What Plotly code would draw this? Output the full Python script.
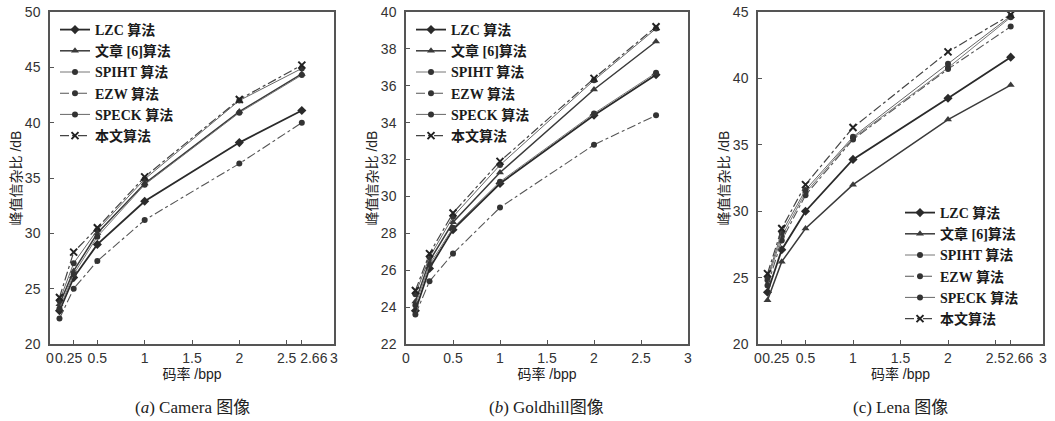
import plotly.graph_objects as go

# ---------------- data ----------------
bpp = [0.1, 0.25, 0.5, 1, 2, 2.66]
series_names = ["LZC 算法", "文章 [6]算法", "SPIHT 算法", "EZW 算法", "SPECK 算法", "本文算法"]

# (a) Camera
cam_lzc    = [23.0, 26.0, 29.0, 32.9, 38.2, 41.1]
cam_art6   = [23.6, 26.6, 30.0, 34.5, 41.0, 44.4]
cam_spiht  = [23.2, 26.3, 29.7, 34.4, 40.9, 44.3]
cam_ezw    = [22.3, 25.0, 27.5, 31.2, 36.3, 40.0]
cam_speck  = [23.9, 27.3, 30.3, 34.9, 42.0, 44.9]
cam_ours   = [24.2, 28.3, 30.5, 35.1, 42.1, 45.2]

# (b) Goldhill
gold_lzc   = [23.8, 26.1, 28.2, 30.7, 34.4, 36.6]
gold_art6  = [24.3, 26.5, 28.6, 31.3, 35.8, 38.4]
gold_spiht = [24.1, 26.3, 28.3, 30.8, 34.5, 36.7]
gold_ezw   = [23.6, 25.4, 26.9, 29.4, 32.8, 34.4]
gold_speck = [24.7, 26.7, 28.9, 31.7, 36.3, 39.1]
gold_ours  = [24.9, 26.9, 29.1, 31.9, 36.4, 39.2]

# (c) Lena
lena_lzc   = [23.9, 27.1, 30.0, 33.9, 38.5, 41.6]
lena_art6  = [23.3, 26.2, 28.7, 32.0, 36.9, 39.5]
lena_spiht = [24.8, 28.1, 31.4, 35.5, 40.8, 44.6]
lena_ezw   = [24.4, 27.8, 31.2, 35.4, 40.7, 43.9]
lena_speck = [25.0, 28.4, 31.6, 35.6, 41.1, 44.7]
lena_ours  = [25.3, 28.7, 32.0, 36.3, 42.0, 44.8]

# x ticks: main set plus the two crowded extra ticks (0.25 and 2.66)
xticks_main = [0, 0.5, 1, 1.5, 2, 2.5, 3]
xticklabels_main = ["0", "0.5", "1", "1.5", "2", "2.5", "3"]
xtick_low = [0.25]
xticklabel_low = ["0.25"]
xtick_high = [2.66]
xticklabel_high = ["2.66"]

yticks_a = [20, 25, 30, 35, 40, 45, 50]
yticks_b = [22, 24, 26, 28, 30, 32, 34, 36, 38, 40]
yticks_c = [20, 25, 30, 35, 40, 45]

captions = ["(<i>a</i>) Camera 图像", "(<i>b</i>) Goldhill图像", "(c) Lena 图像"]
ytitle = "峰值信杂比 /dB"
xtitle = "码率 /bpp"

# ---------------- styles ----------------
styles = [
    dict(line=dict(color="#2a2a2a", width=1.8, dash="solid"), marker=dict(symbol="diamond", size=7, color="#2a2a2a")),
    dict(line=dict(color="#3a3a3a", width=1.5, dash="solid"), marker=dict(symbol="triangle-up", size=7, color="#3a3a3a")),
    dict(line=dict(color="#777777", width=1.0, dash="solid"), marker=dict(symbol="circle", size=6, color="#333333")),
    dict(line=dict(color="#555555", width=1.1, dash="dashdot"), marker=dict(symbol="circle", size=6, color="#333333")),
    dict(line=dict(color="#666666", width=1.0, dash="solid"), marker=dict(symbol="circle", size=6, color="#333333")),
    dict(line=dict(color="#444444", width=1.2, dash="dashdot"), marker=dict(symbol="x-thin", size=7, color="#222222", line=dict(width=2, color="#222222"))),
]

data_sets = [
    [cam_lzc, cam_art6, cam_spiht, cam_ezw, cam_speck, cam_ours],
    [gold_lzc, gold_art6, gold_spiht, gold_ezw, gold_speck, gold_ours],
    [lena_lzc, lena_art6, lena_spiht, lena_ezw, lena_speck, lena_ours],
]

W, H = 1055, 421
xdomains = [(50 / W, 334 / W), (406 / W, 688 / W), (758 / W, 1043 / W)]
ydomain = (1 - 344 / H, 1 - 12 / H)
yranges = [(20, 50), (22, 40), (20, 45)]
ytick_sets = [yticks_a, yticks_b, yticks_c]
legend_keys = ["legend", "legend2", "legend3"]
# extra overlay axes for panels a and c: (panel, axis number, ticks, labels, label shift px)
extra_axes = [
    (0, 4, xtick_low, xticklabel_low, -5),
    (0, 5, xtick_high, xticklabel_high, 12),
    (2, 6, xtick_low, xticklabel_low, -6),
    (2, 7, xtick_high, xticklabel_high, 9),
]

fig = go.Figure()
for p in range(3):
    xa = "x" if p == 0 else f"x{p+1}"
    ya = "y" if p == 0 else f"y{p+1}"
    for s in range(6):
        fig.add_trace(go.Scatter(
            x=bpp, y=data_sets[p][s], name=series_names[s],
            mode="lines+markers", xaxis=xa, yaxis=ya,
            legend=legend_keys[p], **styles[s]))

for (p, n, tv, tt, sh) in extra_axes:
    ya = "y" if p == 0 else f"y{p+1}"
    fig.add_trace(go.Scatter(x=[], y=[], xaxis=f"x{n}", yaxis=ya, showlegend=False,
                             hoverinfo="skip"))

axis_common = dict(showline=True, mirror=True, linecolor="#555555", linewidth=1.5,
                   ticks="inside", ticklen=4, tickcolor="#555555", showgrid=False, zeroline=False,
                   automargin=False)
xtick_font = dict(family="Liberation Sans Narrow, Liberation Sans", size=14, color="#333333")
title_font = dict(family="Liberation Sans, Noto Sans CJK SC", size=14, color="#222222")
layout = dict(width=W, height=H, margin=dict(l=0, r=0, t=0, b=0, pad=0, autoexpand=False),
              paper_bgcolor="white", plot_bgcolor="white", showlegend=True)

for p in range(3):
    xk = "xaxis" if p == 0 else f"xaxis{p+1}"
    yk = "yaxis" if p == 0 else f"yaxis{p+1}"
    ya = "y" if p == 0 else f"y{p+1}"
    xa = "x" if p == 0 else f"x{p+1}"
    layout[xk] = dict(domain=list(xdomains[p]), range=[0, 3], anchor=ya,
                      tickmode="array", tickvals=xticks_main, ticktext=xticklabels_main,
                      tickangle=0, tickfont=xtick_font,
                      title=dict(text=xtitle, font=title_font, standoff=3), **axis_common)
    layout[yk] = dict(domain=list(ydomain), range=list(yranges[p]), anchor=xa,
                      tickmode="array", tickvals=ytick_sets[p], ticklabelstandoff=5,
                      tickfont=dict(family="Liberation Sans", size=14, color="#333333"),
                      title=dict(text=ytitle, font=title_font, standoff=0), **axis_common)

for (p, n, tv, tt, sh) in extra_axes:
    xa = "x" if p == 0 else f"x{p+1}"
    ya = "y" if p == 0 else f"y{p+1}"
    layout[f"xaxis{n}"] = dict(overlaying=xa, anchor=ya, side="bottom", range=[0, 3],
                               tickmode="array", tickvals=tv, ticktext=tt, tickangle=0,
                               ticklabelshift=sh, tickfont=xtick_font, automargin=False,
                               showline=True, linecolor="rgba(0,0,0,0)", linewidth=1.5,
                               ticks="inside", ticklen=4, tickcolor="#555555",
                               showgrid=False, zeroline=False)

legend_font = dict(family="Liberation Serif, Noto Sans CJK SC", size=14, color="#1a1a1a", weight="bold")
leg_common = dict(xanchor="left", yanchor="top", font=legend_font,
                  bgcolor="rgba(0,0,0,0)", tracegroupgap=0, itemwidth=30)
layout["legend"] = dict(x=55 / W, y=1 - 14 / H, **leg_common)
layout["legend2"] = dict(x=411 / W, y=1 - 14 / H, **leg_common)
layout["legend3"] = dict(x=900 / W, y=1 - 197 / H, **leg_common)

fig.update_layout(**layout)

for p in range(3):
    cx = (xdomains[p][0] + xdomains[p][1]) / 2
    fig.add_annotation(text=captions[p], x=cx, y=1 - 407 / H, xref="paper", yref="paper",
                       showarrow=False, xanchor="center", yanchor="middle",
                       font=dict(family="Liberation Serif, Noto Sans CJK SC", size=17, color="#222222"))

fig.write_html("out.html", config={"displayModeBar": False},
               post_script="document.body.style.margin='0';document.body.style.overflow='hidden';")
